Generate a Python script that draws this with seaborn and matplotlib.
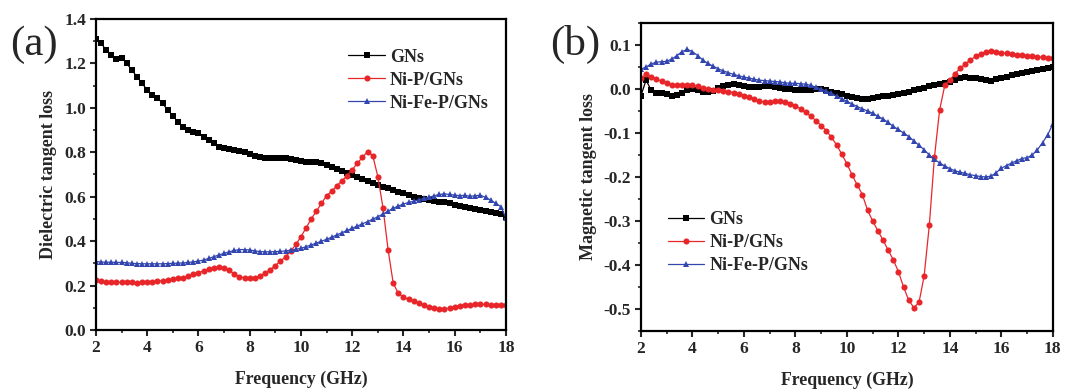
import numpy as np
import pandas as pd
import matplotlib
matplotlib.use("Agg")
import matplotlib.pyplot as plt
from matplotlib.ticker import MultipleLocator, FormatStrFormatter
import seaborn as sns

# ---------------- data ----------------
freq = [round(2.0 + 0.2 * i, 1) for i in range(81)]

# (a) dielectric tangent loss
gns_a = [1.31, 1.29, 1.26, 1.24, 1.22, 1.225, 1.20, 1.17, 1.14, 1.11,
         1.08, 1.06, 1.045, 1.02, 0.99, 0.965, 0.935, 0.915, 0.90, 0.89,
         0.885, 0.87, 0.855, 0.84, 0.825, 0.82, 0.815, 0.81, 0.805, 0.80,
         0.79, 0.785, 0.78, 0.775, 0.775, 0.775, 0.775, 0.772, 0.77, 0.765,
         0.762, 0.758, 0.756, 0.755, 0.75, 0.742, 0.733, 0.724, 0.715, 0.706,
         0.698, 0.69, 0.68, 0.67, 0.66, 0.652, 0.645, 0.637, 0.63, 0.622,
         0.615, 0.608, 0.60, 0.594, 0.59, 0.585, 0.58, 0.578, 0.575, 0.57,
         0.563, 0.558, 0.553, 0.548, 0.544, 0.54, 0.536, 0.532, 0.528, 0.522,
         0.51]
nip_a = [0.225, 0.22, 0.215, 0.215, 0.215, 0.215, 0.215, 0.214, 0.213, 0.214,
         0.215, 0.217, 0.22, 0.222, 0.225, 0.228, 0.232, 0.236, 0.242, 0.25,
         0.258, 0.266, 0.274, 0.28, 0.283, 0.28, 0.268, 0.252, 0.24, 0.234,
         0.233, 0.236, 0.243, 0.255, 0.272, 0.29, 0.31, 0.33, 0.355, 0.385,
         0.42, 0.46, 0.50, 0.535, 0.57, 0.605, 0.625, 0.65, 0.672, 0.695,
         0.722, 0.75, 0.778, 0.803, 0.785, 0.69, 0.55, 0.36, 0.21, 0.165,
         0.148, 0.138, 0.13, 0.122, 0.112, 0.104, 0.098, 0.095, 0.095, 0.098,
         0.105, 0.11, 0.113, 0.114, 0.115, 0.116, 0.115, 0.114, 0.113, 0.113,
         0.112]
nifep_a = [0.308, 0.306, 0.305, 0.305, 0.304, 0.304, 0.303, 0.30, 0.299, 0.298,
           0.298, 0.298, 0.298, 0.298, 0.299, 0.30, 0.301, 0.302, 0.304, 0.307,
           0.31, 0.315, 0.322, 0.33, 0.338, 0.345, 0.352, 0.358, 0.362, 0.362,
           0.36, 0.356, 0.353, 0.352, 0.352, 0.353, 0.354, 0.356, 0.359, 0.363,
           0.368, 0.375, 0.383, 0.391, 0.40, 0.408, 0.418, 0.428, 0.438, 0.448,
           0.458, 0.468, 0.478, 0.488, 0.499, 0.51, 0.522, 0.535, 0.548, 0.558,
           0.567, 0.574, 0.58, 0.586, 0.592, 0.598, 0.604, 0.61, 0.613, 0.61,
           0.607, 0.605, 0.606, 0.602, 0.604, 0.607, 0.597, 0.585, 0.57, 0.555,
           0.503]

# (b) magnetic tangent loss
gns_b = [-0.015, 0.02, -0.003, -0.008, -0.01, -0.012, -0.015, -0.013, -0.008, -0.002,
         0.0, -0.002, -0.006, -0.007, -0.004, 0.002, 0.006, 0.01, 0.012, 0.01,
         0.007, 0.005, 0.004, 0.004, 0.006, 0.007, 0.005, 0.003, 0.001, -0.001,
         -0.002, -0.003, -0.003, -0.002, -0.001, -0.001, -0.003, -0.006, -0.009, -0.012,
         -0.015, -0.018, -0.021, -0.023, -0.023, -0.021, -0.019, -0.017, -0.015, -0.013,
         -0.011, -0.009, -0.006, -0.003, 0.0, 0.003, 0.007, 0.01, 0.012, 0.014,
         0.017, 0.021, 0.025, 0.027, 0.026, 0.025, 0.023, 0.02, 0.019, 0.022,
         0.025, 0.028, 0.031, 0.034, 0.036, 0.038, 0.041, 0.043, 0.045, 0.048,
         0.05]
nip_b = [0.025, 0.033, 0.028, 0.022, 0.018, 0.014, 0.01, 0.009, 0.008, 0.008,
         0.009, 0.006, 0.002, 0.0, -0.002, -0.003, -0.004, -0.006, -0.008, -0.011,
         -0.015, -0.019, -0.023, -0.027, -0.03, -0.03, -0.028, -0.028, -0.029, -0.033,
         -0.038, -0.045, -0.053, -0.062, -0.072, -0.083, -0.095, -0.11, -0.127, -0.148,
         -0.17, -0.195, -0.218, -0.24, -0.275, -0.30, -0.322, -0.343, -0.366, -0.388,
         -0.415, -0.45, -0.48, -0.497, -0.485, -0.425, -0.31, -0.155, -0.048, 0.008,
         0.02, 0.035, 0.047, 0.057, 0.066, 0.074, 0.08, 0.085, 0.087, 0.085,
         0.082, 0.081, 0.079, 0.078, 0.077, 0.076, 0.075, 0.073, 0.072, 0.071,
         0.07]
nifep_b = [0.045, 0.05, 0.057, 0.061, 0.062, 0.063, 0.068, 0.076, 0.085, 0.09,
           0.085, 0.076, 0.066, 0.058, 0.052, 0.046, 0.041, 0.037, 0.033, 0.03,
           0.027, 0.025, 0.022, 0.02, 0.019, 0.018, 0.017, 0.016, 0.014, 0.013,
           0.013, 0.012, 0.011, 0.008, 0.004, 0.0, -0.005, -0.01, -0.016, -0.022,
           -0.028, -0.034, -0.04, -0.045, -0.05, -0.055, -0.062, -0.068, -0.076, -0.085,
           -0.092, -0.1, -0.108, -0.118, -0.128, -0.138, -0.15, -0.16, -0.168, -0.175,
           -0.181, -0.186, -0.189, -0.192, -0.195, -0.197, -0.199, -0.2, -0.198, -0.19,
           -0.18, -0.174, -0.168, -0.163, -0.158, -0.156, -0.15, -0.138, -0.122, -0.104,
           -0.079]

series_names = ["GNs", "Ni-P/GNs", "Ni-Fe-P/GNs"]
colors = ["#000000", "#e8262a", "#3346b0"]
markers = ["s", "o", "^"]

# ---------------- style ----------------
sns.set_theme(style="ticks")
plt.rcParams["font.family"] = ["Liberation Serif", "DejaVu Serif"]
plt.rcParams["font.weight"] = "bold"
plt.rcParams["axes.unicode_minus"] = False

fig = plt.figure(figsize=(10.7, 3.89), dpi=100)
ax_a = fig.add_axes([0.0897, 0.1517, 0.3832, 0.7995])
ax_b = fig.add_axes([0.5990, 0.1491, 0.3850, 0.7918])


def draw(ax, ys):
    for name, y, c, m in zip(series_names, ys, colors, markers):
        df = pd.DataFrame({"f": freq, "v": y})
        sns.lineplot(data=df, x="f", y="v", ax=ax, color=c, marker=m,
                     markersize=4.4, markeredgewidth=0, linewidth=0.9,
                     label=name, sort=False)


draw(ax_a, [gns_a, nip_a, nifep_a])
draw(ax_b, [gns_b, nip_b, nifep_b])

for ax in (ax_a, ax_b):
    ax.set_xlim(2, 18)
    ax.xaxis.set_major_locator(MultipleLocator(2))
    ax.xaxis.set_minor_locator(MultipleLocator(1))
    ax.set_xlabel("Frequency (GHz)", fontsize=12.8, fontweight="bold", labelpad=11)
    ax.tick_params(which="major", direction="out", length=4, width=1.5,
                   labelsize=12.5, top=False, right=False, pad=3)
    ax.tick_params(which="minor", direction="out", length=2.5, width=1.2,
                   top=False, right=False)
    for sp in ax.spines.values():
        sp.set_linewidth(1.6)
        sp.set_visible(True)
        sp.set_color("black")

ax_a.set_ylim(0, 1.4)
ax_a.yaxis.set_major_locator(MultipleLocator(0.2))
ax_a.yaxis.set_minor_locator(MultipleLocator(0.1))
ax_a.yaxis.set_major_formatter(FormatStrFormatter("%.1f"))
ax_a.set_ylabel("Dielectric tangent loss", fontsize=13, fontweight="bold", labelpad=5)

ax_b.set_ylim(-0.55, 0.15)
ax_b.yaxis.set_major_locator(MultipleLocator(0.1))
ax_b.yaxis.set_minor_locator(MultipleLocator(0.05))
ax_b.yaxis.set_major_formatter(FormatStrFormatter("%.1f"))
ax_b.set_ylabel("Magnetic tangent loss", fontsize=13, fontweight="bold", labelpad=5)

for ax in (ax_a, ax_b):
    for lab in ax.get_xticklabels() + ax.get_yticklabels():
        lab.set_fontweight("bold")

leg_font = {"weight": "bold", "size": 13}
ax_a.legend(loc="upper left", bbox_to_anchor=(0.585, 0.945), frameon=False,
            prop=leg_font, handlelength=2.0, handletextpad=0.3,
            labelspacing=0.33, borderpad=0.2)
ax_b.legend(loc="upper left", bbox_to_anchor=(0.035, 0.43), frameon=False,
            prop=leg_font, handlelength=2.0, handletextpad=0.3,
            labelspacing=0.33, borderpad=0.2)

fig.text(0.009, 0.885, "(a)", fontsize=31, fontweight="normal", va="center")
fig.text(0.514, 0.885, "(b)", fontsize=31, fontweight="normal", va="center")

fig.savefig("out.png", dpi=100)
